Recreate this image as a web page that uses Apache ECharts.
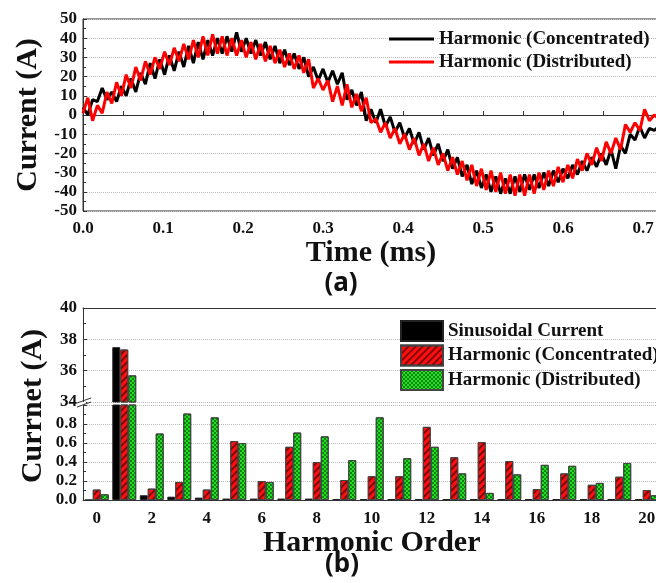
<!DOCTYPE html>
<html>
<head>
<meta charset="utf-8">
<script src="https://cdn.jsdelivr.net/npm/echarts@6/dist/echarts.min.js"></script>
<style>
html,body{margin:0;padding:0;background:#fff;}
#main{width:656px;height:583px;}
</style>
</head>
<body>
<div id="main"></div>
<script>
// (a) current waveform (peaks / troughs of the ripple)
const timeMs = [0,0.006,0.012,0.018,0.024,0.03,0.036,0.042,0.048,0.054,0.06,0.066,0.072,0.078,0.084,0.09,0.096,0.102,0.108,0.114,0.12,0.126,0.132,0.138,0.144,0.15,0.156,0.162,0.168,0.174,0.18,0.186,0.192,0.198,0.204,0.21,0.216,0.222,0.228,0.234,0.24,0.246,0.252,0.258,0.264,0.27,0.276,0.282,0.288,0.294,0.3,0.306,0.312,0.318,0.324,0.33,0.336,0.342,0.348,0.354,0.36,0.366,0.372,0.378,0.384,0.39,0.396,0.402,0.408,0.414,0.42,0.426,0.432,0.438,0.444,0.45,0.456,0.462,0.468,0.474,0.48,0.486,0.492,0.498,0.504,0.51,0.516,0.522,0.528,0.534,0.54,0.546,0.552,0.558,0.564,0.57,0.576,0.582,0.588,0.594,0.6,0.606,0.612,0.618,0.624,0.63,0.636,0.642,0.648,0.654,0.66,0.666,0.672,0.678,0.684,0.69,0.696,0.702,0.708,0.714,0.72];
const currentConcentrated = [4,0,8,7,14,8,12,7,15,10,
  19,12,22,16,27,19,29,21,31,23,
  33,25,36,27,38,29,39,31,40,32,
  41,33,43,33,40,32,39,31,38,29,
  36,27,34,26,32,24,30,20,25,18,
  24,17,23,16,22,8,13,5,12,-3,
  3,-4,3,-6,-1,-9,-4,-12,-7,-15,
  -9,-18,-12,-21,-15,-24,-18,-28,-22,-32,
  -26,-36,-29,-38,-31,-40,-32,-41,-33,-41,
  -32,-40,-31,-39,-31,-38,-30,-37,-29,-35,
  -28,-33,-26,-31,-24,-29,-22,-27,-20,-26,
  -18,-28,-16,-20,-10,-13,-6,-12,-7,-8,
  -6];
const currentDistributed = [1,9,-3,5,1,12,6,17,10,21,
  14,25,18,28,21,30,24,33,26,35,
  28,37,29,39,30,41,31,42,32,41,
  31,40,31,39,30,38,29,37,28,36,
  27,34,25,32,24,31,22,29,14,19,
  13,18,7,15,5,16,4,11,2,9,
  -4,-2,-9,-4,-12,-7,-15,-10,-18,-12,
  -21,-15,-24,-17,-26,-20,-29,-22,-31,-24,
  -34,-26,-37,-28,-39,-29,-40,-30,-41,-31,
  -42,-31,-42,-31,-41,-30,-39,-29,-37,-27,
  -35,-26,-33,-23,-29,-20,-26,-17,-24,-14,
  -20,-12,-18,-5,-9,-4,-8,3,-3,0,
  -2];

// (b) harmonic spectrum
const harmonicOrder = ['0','1','2','3','4','5','6','7','8','9','10','11','12','13','14','15','16','17','18','19','20'];
const sinusoidalCurrent = [0,37.5,0.05,0.035,0.025,0.015,0.015,0.015,0.015,0.01,0.01,0.01,0.01,0.01,0.01,0.01,0.01,0.01,0.01,0.01,0.01];
const harmonicConcentrated = [0.11,37.35,0.12,0.19,0.11,0.62,0.2,0.56,0.4,0.21,0.25,0.25,0.77,0.45,0.61,0.41,0.115,0.28,0.16,0.245,0.105];
const harmonicDistributed = [0.06,35.7,0.7,0.91,0.87,0.6,0.19,0.71,0.67,0.42,0.87,0.44,0.56,0.28,0.075,0.27,0.37,0.36,0.18,0.39,0.05];

const serif = 'Liberation Serif';
const axisColor = '#333';
const labelStyle = {fontFamily: serif, fontWeight: 'bold', fontSize: 17, color: '#111'};
const titleStyle = {fontFamily: serif, fontWeight: 'bold', fontSize: 30, color: '#111'};
const legendText = {fontFamily: serif, fontWeight: 'bold', fontSize: 19, lineHeight: 20, color: '#111'};
const dotted = {show: true, lineStyle: {color: '#bbb', type: 'dotted', width: 1}};

// bar names differ from the line names, legend shows the plain text
const barNames = {
  sin: 'Sinusoidal Current',
  conc: 'Harmonic (Concentrated) [b]',
  dist: 'Harmonic (Distributed) [b]'
};
const barStyles = {
  sin: {color: '#000', borderColor: '#222', borderWidth: 1},
  conc: {color: '#ff1010', borderColor: '#444', borderWidth: 1,
    decal: {symbol: 'rect', symbolSize: 1, dashArrayX: [1, 0], dashArrayY: [1.2, 2.6], rotation: -Math.PI / 4, color: 'rgba(110,0,0,0.85)'}},
  dist: {color: '#22e022', borderColor: '#444', borderWidth: 1,
    decal: {symbol: 'rect', symbolSize: 1, dashArrayX: [[1.5, 1.5], [0, 1.5, 1.5, 0]], dashArrayY: [1.5, 0], color: 'rgba(0,70,0,0.6)'}}
};

function barSeries(key, values, axisIdx) {
  return {
    name: barNames[key],
    type: 'bar',
    xAxisIndex: axisIdx,
    yAxisIndex: axisIdx,
    data: values,
    barGap: '0%',
    barCategoryGap: '13%',
    clip: true,
    itemStyle: barStyles[key]
  };
}

const chart = echarts.init(document.getElementById('main'));
chart.setOption({
  animation: false,
  textStyle: {fontFamily: serif},
  grid: [
    {left: 83, top: 19, width: 576, height: 192, outerBoundsMode: 'none', show: true, borderColor: axisColor, borderWidth: 1},
    {left: 83, top: 308, width: 577.5, height: 94, outerBoundsMode: 'none'},
    {left: 83, top: 405, width: 577.5, height: 95, outerBoundsMode: 'none'}
  ],
  legend: [
    {
      data: ['Harmonic (Concentrated)', 'Harmonic (Distributed)'],
      orient: 'vertical', left: 384, top: 24, padding: 5,
      icon: 'rect', itemWidth: 45, itemHeight: 3, itemGap: 3,
      textStyle: legendText
    },
    {
      data: [barNames.sin, barNames.conc, barNames.dist],
      orient: 'vertical', left: 395, top: 315, padding: 5,
      icon: 'rect', itemWidth: 42, itemHeight: 20, itemGap: 2.5,
      formatter: function (name) { return name.replace(' [b]', ''); },
      textStyle: legendText
    }
  ],
  xAxis: [
    {
      gridIndex: 0, type: 'value', min: 0, max: 0.72, interval: 0.1,
      axisLine: {lineStyle: {color: axisColor}},
      axisTick: {inside: true, length: 4, lineStyle: {color: axisColor}},
      minorTick: {show: true, splitNumber: 2, length: 4, lineStyle: {color: axisColor}},
      axisLabel: Object.assign({margin: 9, showMaxLabel: false, formatter: v => v.toFixed(1)}, labelStyle),
      splitLine: {show: false},
      name: 'Time (ms)', nameLocation: 'middle', nameGap: 25, nameTextStyle: titleStyle
    },
    {
      gridIndex: 1, type: 'category', data: harmonicOrder, position: 'top',
      axisLine: {lineStyle: {color: axisColor}},
      axisTick: {show: false}, axisLabel: {show: false}
    },
    {
      gridIndex: 2, type: 'category', data: harmonicOrder,
      axisLine: {lineStyle: {color: axisColor}},
      axisTick: {show: false},
      axisLabel: Object.assign({interval: 1, margin: 10}, labelStyle),
      name: 'Harmonic Order', nameLocation: 'middle', nameGap: 23, nameTextStyle: titleStyle
    }
  ],
  yAxis: [
    {
      gridIndex: 0, type: 'value', min: -50, max: 50, interval: 10,
      axisLine: {show: true, lineStyle: {color: axisColor}},
      axisTick: {show: true, inside: true, length: 4, lineStyle: {color: axisColor}},
      minorTick: {show: true, splitNumber: 2, length: 3, lineStyle: {color: axisColor}},
      axisLabel: Object.assign({margin: 6}, labelStyle),
      splitLine: dotted,
      name: 'Current (A)', nameLocation: 'middle', nameGap: 36, nameTextStyle: titleStyle
    },
    {
      gridIndex: 1, type: 'value', min: 34, max: 40, interval: 2,
      axisLine: {show: true, lineStyle: {color: axisColor}},
      axisTick: {show: true, inside: true, length: 4, lineStyle: {color: axisColor}},
      minorTick: {show: true, splitNumber: 2, length: 3, lineStyle: {color: axisColor}},
      axisLabel: Object.assign({margin: 6}, labelStyle),
      splitLine: dotted
    },
    {
      gridIndex: 2, type: 'value', min: 0, max: 1, interval: 0.2,
      axisLine: {show: true, lineStyle: {color: axisColor}},
      axisTick: {show: true, inside: true, length: 4, lineStyle: {color: axisColor}},
      minorTick: {show: true, splitNumber: 2, length: 3, lineStyle: {color: axisColor}},
      axisLabel: Object.assign({margin: 6, showMaxLabel: false, formatter: v => v.toFixed(1)}, labelStyle),
      splitLine: dotted
    }
  ],
  series: [
    {
      name: 'Harmonic (Concentrated)', type: 'line', xAxisIndex: 0, yAxisIndex: 0,
      data: timeMs.map((t, i) => [t, currentConcentrated[i]]),
      symbol: 'none', lineStyle: {color: '#000', width: 3}, itemStyle: {color: '#000'}
    },
    {
      name: 'Harmonic (Distributed)', type: 'line', xAxisIndex: 0, yAxisIndex: 0,
      data: timeMs.map((t, i) => [t, currentDistributed[i]]),
      symbol: 'none', lineStyle: {color: '#ff0000', width: 3}, itemStyle: {color: '#ff0000'}
    },
    barSeries('sin', sinusoidalCurrent, 2),
    barSeries('conc', harmonicConcentrated, 2),
    barSeries('dist', harmonicDistributed, 2),
    barSeries('sin', sinusoidalCurrent, 1),
    barSeries('conc', harmonicConcentrated, 1),
    barSeries('dist', harmonicDistributed, 1)
  ],
  graphic: [
    {type: 'text', x: 341, y: 284, style: {text: '(a)', font: 'bold 26px "Noto Sans"', fill: '#111', align: 'center', verticalAlign: 'middle', textAlign: 'center', textVerticalAlign: 'middle'}},
    {type: 'text', x: 342, y: 565, style: {text: '(b)', font: 'bold 26px "Noto Sans"', fill: '#111', align: 'center', verticalAlign: 'middle', textAlign: 'center', textVerticalAlign: 'middle'}},
    {type: 'text', x: 33, y: 406, rotation: Math.PI / 2, style: {text: 'Currnet (A)', font: 'bold 30px "Liberation Serif"', fill: '#111', align: 'center', verticalAlign: 'middle', textAlign: 'center', textVerticalAlign: 'middle'}},
    // axis break marks
    {type: 'rect', shape: {x: 80, y: 402, width: 6, height: 3}, style: {fill: '#fff'}, z: 100},
    {type: 'line', shape: {x1: 77, y1: 403, x2: 91, y2: 398}, style: {stroke: '#333', lineWidth: 1}, z: 101},
    {type: 'line', shape: {x1: 77, y1: 407, x2: 91, y2: 402}, style: {stroke: '#333', lineWidth: 1}, z: 101}
  ]
});
</script>
</body>
</html>
